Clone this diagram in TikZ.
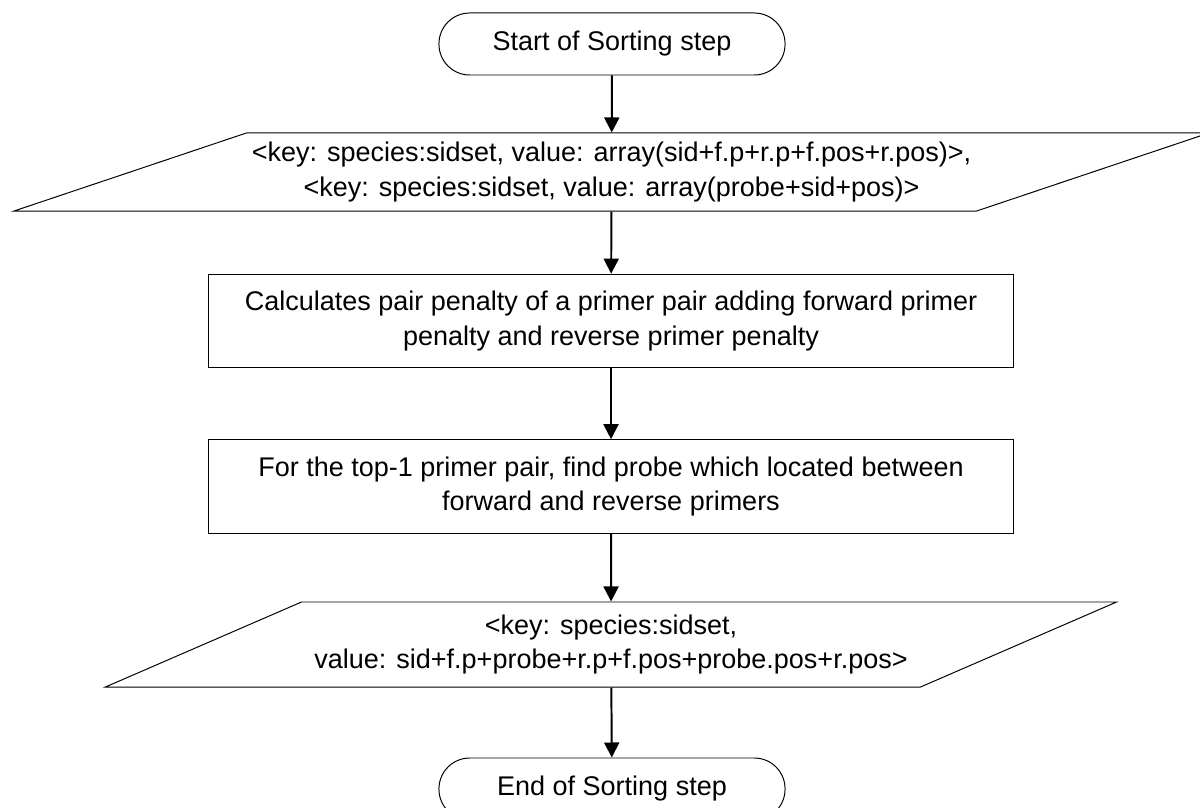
\documentclass[tikz,border=0pt]{standalone}
\usepackage{fontspec}
\setmainfont{Liberation Sans}
\usetikzlibrary{positioning, shapes.geometric, arrows.meta}
\tikzset{
	box/.style={draw, line width=0.7pt, align=center, font=\fontsize{19.2pt}{24.5pt}\selectfont, inner sep=0pt},
	terminal/.style={box, rounded corners=0.77cm, minimum width=8.65cm, minimum height=1.55cm},
	process/.style={box, minimum width=20.1cm, minimum height=2.34cm},
	data/.style={box, trapezium, trapezium stretches=true},
	flow/.style={-{Triangle[length=3.75mm, width=3.75mm]}, line width=1.4pt}
}
\begin{document}
\begin{tikzpicture}[x=0.025cm, y=-0.025cm]
			\useasboundingbox	(0, 0) rectangle (1200, 807);
			\node	(start)	at	(612, 44)		[terminal]	{Start of Sorting step};
			\node	(in)	at	(611.5, 172)	[data, trapezium left angle=14.6, trapezium right angle=165.4, minimum width=29.975cm, minimum height=1.95cm]
				{<key: species:sidset, value: array(sid+f.p+r.p+f.pos+r.pos)>,\\<key: species:sidset, value: array(probe+sid+pos)>};
			\node	(pair)	at	(611, 321)		[process]	{Calculates pair penalty of a primer pair adding forward primer\\penalty and reverse primer penalty};
			\node	(probe)	at	(611, 486.5)	[process]	{For the top-1 primer pair, find probe which located between\\forward and reverse primers};
			\node	(out)	at	(611, 644.5)	[data, trapezium left angle=17.6, trapezium right angle=162.4, minimum width=25.3cm, minimum height=2.125cm]
				{<key: species:sidset,\\value: sid+f.p+probe+r.p+f.pos+probe.pos+r.pos>};
			\node	(end)	at	(612, 789)		[terminal]	{End of Sorting step};

			\draw	[flow]	(start)	--	(in);
			\draw	[flow]	(in)	--	(pair);
			\draw	[flow]	(pair)	--	(probe);
			\draw	[flow]	(probe)	--	(out);
			\draw	[flow]	(out)	--	(end);
		\end{tikzpicture}
\end{document}
